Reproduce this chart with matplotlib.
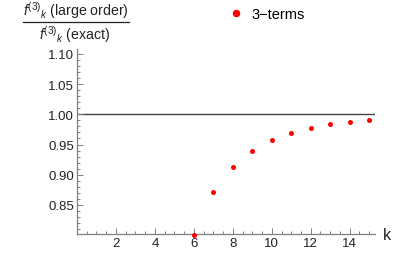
"""Ratio of large-order to exact f^(3)_k coefficients, 3-term approximation."""

import matplotlib

matplotlib.use("Agg")
import matplotlib.pyplot as plt
from matplotlib.lines import Line2D
from matplotlib.ticker import FixedLocator, MultipleLocator, FormatStrFormatter

plt.rcParams["font.family"] = ["Liberation Sans", "DejaVu Sans"]
plt.rcParams["mathtext.fontset"] = "custom"
plt.rcParams["mathtext.rm"] = "Liberation Sans"
plt.rcParams["mathtext.it"] = "Liberation Sans:italic"

k_values = [6, 7, 8, 9, 10, 11, 12, 13, 14, 15]
ratio_3terms = [0.800, 0.871, 0.912, 0.939, 0.957, 0.9695, 0.978, 0.984, 0.988, 0.9906]
x_ticks = [2, 4, 6, 8, 10, 12, 14]
y_ticks = [0.85, 0.90, 0.95, 1.00, 1.05, 1.10]

AXIS_GRAY = "#7f7f7f"
TEXT = "#222222"


def main() -> None:
    fig = plt.figure(figsize=(4.11, 2.55), dpi=100)
    ax = fig.add_axes([77 / 411, 20 / 255, 298 / 411, 185 / 255])

    ax.axhline(1.0, color="#444444", lw=1.0, zorder=1)
    ax.plot(k_values, ratio_3terms, "o", color="#ff0000", ms=3.6,
            mec="none", clip_on=False, zorder=3, label="3\u2212terms")

    ax.set_xlim(0, 15.3)
    ax.set_ylim(0.802, 1.108)

    for side in ("top", "right"):
        ax.spines[side].set_visible(False)
    for side in ("left", "bottom"):
        ax.spines[side].set_color(AXIS_GRAY)
        ax.spines[side].set_linewidth(0.9)

    ax.xaxis.set_major_locator(FixedLocator(x_ticks))
    ax.xaxis.set_minor_locator(MultipleLocator(0.5))
    ax.yaxis.set_major_locator(FixedLocator(y_ticks))
    ax.yaxis.set_minor_locator(MultipleLocator(0.01))
    ax.yaxis.set_major_formatter(FormatStrFormatter("%.2f"))

    ax.tick_params(which="both", direction="in", color=AXIS_GRAY, width=0.7,
                   labelsize=9.5, labelcolor=TEXT)
    ax.tick_params(which="major", length=4, pad=2)
    ax.tick_params(which="minor", length=2)

    ax.text(1.027, -0.005, "k", transform=ax.transAxes, fontsize=11.5,
            color=TEXT, ha="left", va="center")

    # fraction-style y label in the top-left corner
    fig.text(76 / 411, 1 - 11 / 255, r"$f^{(3)}{}_k$ (large order)",
             fontsize=10.2, color=TEXT, ha="center", va="center")
    fig.text(75 / 411, 1 - 35 / 255, r"$f^{(3)}{}_k$ (exact)",
             fontsize=10.2, color=TEXT, ha="center", va="center")
    fig.add_artist(Line2D([23 / 411, 129 / 411], [1 - 23 / 255, 1 - 23 / 255],
                          color=TEXT, lw=0.9, transform=fig.transFigure))

    ax.legend(loc="center left", bbox_to_anchor=(229 / 411, 1 - 15 / 255),
              bbox_transform=fig.transFigure, frameon=False, fontsize=10.5,
              handlelength=1.0, handletextpad=0.55, markerscale=1.5,
              borderpad=0, borderaxespad=0)

    fig.savefig("out.png", dpi=100)
    plt.close(fig)


if __name__ == "__main__":
    main()
